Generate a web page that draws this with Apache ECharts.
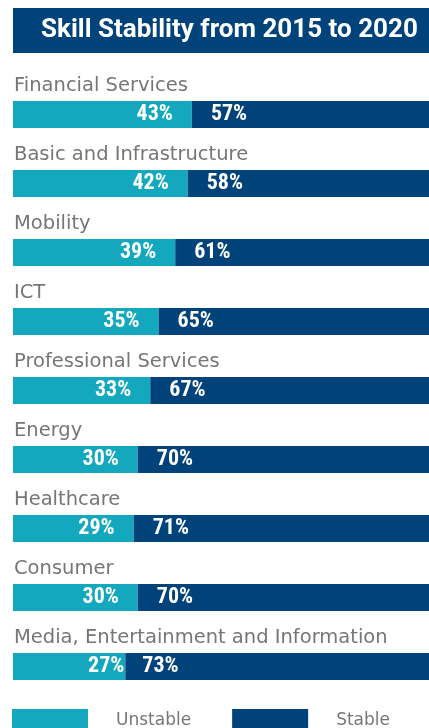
<!DOCTYPE html>
<html>
<head>
<meta charset="utf-8">
<script src="https://cdn.jsdelivr.net/npm/echarts@6/dist/echarts.min.js"></script>
<style>
  html, body { margin: 0; padding: 0; background: #fff; }
  #chart { width: 429px; height: 728px; }
</style>
</head>
<body>
<div id="chart"></div>
<script>
// sectors, top to bottom
const sectors = [
  'Financial Services',
  'Basic and Infrastructure',
  'Mobility',
  'ICT',
  'Professional Services',
  'Energy',
  'Healthcare',
  'Consumer',
  'Media, Entertainment and Information'
]
const unstable = [43, 42, 39, 35, 33, 30, 29, 30, 27]
const stable = [57, 58, 61, 65, 67, 70, 71, 70, 73]

const colors = { unstable: '#13a8be', stable: '#00437a', text: '#767676' }
const numFont = "'Liberation Sans Narrow', 'Roboto Condensed', Roboto, sans-serif"
const labelFont = "'DejaVu Sans', sans-serif"

const valueLabel = (position) => ({
  show: true,
  position,
  distance: 19,
  formatter: '{c}%',
  color: '#fff',
  fontFamily: numFont,
  fontWeight: 'bold',
  fontSize: 22
})

// last row: the unstable label sits flush against the split
const tight = (arr, pos) => arr.map((v, i) =>
  i === arr.length - 1 ? { value: v, label: { distance: pos === 'insideRight' ? 1 : 17 } } : v
)

const chart = echarts.init(document.getElementById('chart'))

chart.setOption({
  animation: false,
  title: {
    text: 'Skill Stability from 2015 to 2020',
    left: 13,
    top: 8,
    padding: [8, 60, 9, 28],
    backgroundColor: colors.stable,
    textStyle: {
      color: '#fff',
      fontFamily: 'Roboto, sans-serif',
      fontWeight: 'bold',
      fontSize: 26,
      lineHeight: 28
    }
  },
  legend: {
    left: 12,
    top: 709,
    padding: 0,
    itemWidth: 76,
    itemHeight: 24,
    itemGap: 41,
    icon: 'rect',
    textStyle: {
      color: colors.text,
      fontFamily: labelFont,
      fontSize: 17,
      padding: [0, 0, 0, 23]
    },
    data: ['Unstable', 'Stable']
  },
  grid: { left: 13, right: 0, top: 80, bottom: 27 },
  xAxis: {
    type: 'value',
    min: 0,
    max: 100,
    show: false
  },
  yAxis: {
    type: 'category',
    data: sectors,
    inverse: true,
    axisLine: { show: false },
    axisTick: { show: false },
    splitLine: { show: false },
    axisLabel: {
      inside: true,
      margin: 1,
      verticalAlign: 'bottom',
      padding: [0, 0, 19, 0],
      color: colors.text,
      fontFamily: labelFont,
      fontSize: 19.5
    },
    z: 5
  },
  series: [
    {
      name: 'Unstable',
      type: 'bar',
      stack: 'total',
      barWidth: 27,
      data: tight(unstable, 'insideRight'),
      itemStyle: { color: colors.unstable },
      label: valueLabel('insideRight')
    },
    {
      name: 'Stable',
      type: 'bar',
      stack: 'total',
      barWidth: 27,
      data: tight(stable, 'insideLeft'),
      itemStyle: { color: colors.stable },
      label: valueLabel('insideLeft')
    }
  ]
})
</script>
</body>
</html>
